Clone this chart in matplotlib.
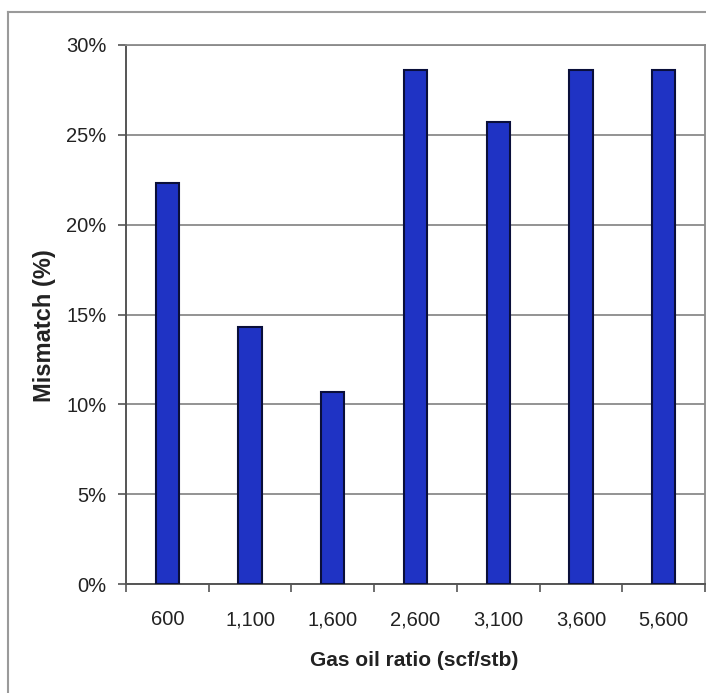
import matplotlib
matplotlib.use("Agg")
import matplotlib.pyplot as plt
from matplotlib.lines import Line2D
from matplotlib.ticker import FuncFormatter

plt.rcParams['font.family'] = ['Liberation Sans', 'DejaVu Sans']

categories = ["600", "1,100", "1,600", "2,600", "3,100", "3,600", "5,600"]
mismatch = [22.3, 14.3, 10.7, 28.6, 25.7, 28.6, 28.6]
yticks = [0, 5, 10, 15, 20, 25, 30]

W, H = 706, 693
fig = plt.figure(figsize=(W / 100, H / 100), dpi=100)
fig.patch.set_facecolor("white")

ax = fig.add_axes([126 / W, (H - 584) / H, (705 - 126) / W, (584 - 45) / H])

x = list(range(len(categories)))
ax.bar(x, mismatch, width=0.28, color="#1f33c4", edgecolor="#0a0f3a", linewidth=1.5, zorder=3)

ax.set_xlim(-0.5, len(categories) - 0.5)
ax.set_ylim(0, 30)
ax.set_yticks(yticks)
ax.yaxis.set_major_formatter(FuncFormatter(lambda v, p: f"{int(v)}%"))
ax.grid(axis="y", color="#8a8a8a", linewidth=1.3, zorder=0)

# x ticks at category boundaries, labels at centres
ax.set_xticks([i - 0.5 for i in range(len(categories) + 1)])
ax.set_xticklabels([])
ax.set_xticks(x, minor=True)
ax.set_xticklabels(categories, minor=True)
ax.tick_params(axis="x", which="major", direction="out", length=6, width=1.2, color="#555555")
ax.tick_params(axis="x", which="minor", length=0, pad=19, labelsize=14.5, labelcolor="#222222")
ax.tick_params(axis="y", direction="out", length=6, width=1.2, color="#555555", pad=8, labelsize=14.5, labelcolor="#222222")

for side in ["left", "bottom"]:
    ax.spines[side].set_color("#555555")
    ax.spines[side].set_linewidth(1.4)
for side in ["top", "right"]:
    ax.spines[side].set_color("#8a8a8a")
    ax.spines[side].set_linewidth(1.3)

fig.text(414 / W, 1 - 661 / H, "Gas oil ratio (scf/stb)", ha="center", va="center",
         fontsize=15, fontweight="bold", color="#222222")
fig.text(45 / W, 1 - 326 / H, "Mismatch (%)", ha="center", va="center", rotation=90,
         fontsize=17, fontweight="bold", color="#222222")

# outer chart frame
fig.add_artist(Line2D([8 / W, 8 / W], [0, 1 - 12 / H], transform=fig.transFigure,
                      color="#9a9a9a", linewidth=1.5))
fig.add_artist(Line2D([8 / W, 1], [1 - 12 / H, 1 - 12 / H], transform=fig.transFigure,
                      color="#9a9a9a", linewidth=1.5))

fig.savefig("out.png", dpi=100, facecolor="white")
